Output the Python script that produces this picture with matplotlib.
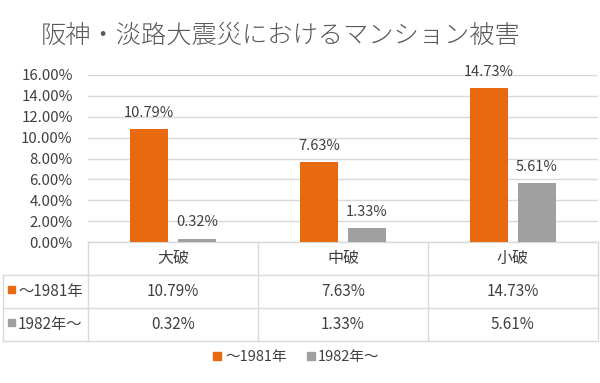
import matplotlib
matplotlib.use('Agg')
import matplotlib.pyplot as plt
import numpy as np

plt.rcParams['font.family'] = ['Noto Sans CJK JP', 'DejaVu Sans']

title = '阪神・淡路大震災におけるマンション被害'
categories = ['大破', '中破', '小破']
series_names = ['～1981年', '1982年～']
before_1981 = [10.79, 7.63, 14.73]
after_1982 = [0.32, 1.33, 5.61]
yticks = [0, 2, 4, 6, 8, 10, 12, 14, 16]

c_orange = '#E8690F'
c_gray = '#A0A0A0'
c_line = '#D9D9D9'
c_text = '#404040'

W, H = 600, 383
fig = plt.figure(figsize=(6, 3.83), dpi=100)

# background overlay in pixel coords for the table
tax = fig.add_axes([0, 0, 1, 1])
tax.set_xlim(0, W)
tax.set_ylim(H, 0)
tax.axis('off')

x0, x1 = 88, 598
y_base = 242
y_top = 75
ax = fig.add_axes([x0 / W, 1 - y_base / H, (x1 - x0) / W, (y_base - y_top) / H])
ax.set_facecolor('none')

x = np.arange(len(categories))
bw = 0.224
off = 0.141
ax.bar(x - off, before_1981, bw, color=c_orange, zorder=3)
ax.bar(x + off, after_1982, bw, color=c_gray, zorder=3)
for xi, v in zip(x, before_1981):
    ax.text(xi - off, v + 0.9, f'{v:.2f}%', ha='center', va='bottom', fontsize=10.5, color=c_text)
for xi, v in zip(x, after_1982):
    ax.text(xi + off, v + 0.9, f'{v:.2f}%', ha='center', va='bottom', fontsize=10.5, color=c_text)

ax.set_xlim(-0.5, len(categories) - 0.5)
ax.set_ylim(0, 16)
ax.set_yticks(yticks)
ax.set_yticklabels([f'{t:.2f}%' for t in yticks], fontsize=10.8, color=c_text)
ax.set_xticks([])
ax.grid(axis='y', color=c_line, lw=1, zorder=0)
ax.tick_params(axis='y', length=0, pad=11)
for s in ax.spines.values():
    s.set_visible(False)

# data table
col_w = (x1 - x0) / len(categories)
rows = [y_base, 275, 308, 341]
left = 3
for yy in rows[1:]:
    tax.plot([left, x1], [yy, yy], color=c_line, lw=1)
tax.plot([x0, x1], [y_base, y_base], color=c_line, lw=1)
tax.plot([left, left], [rows[1], rows[-1]], color=c_line, lw=1)
for i in range(len(categories) + 1):
    xx = x0 + i * col_w
    tax.plot([xx, xx], [y_base, rows[-1]], color=c_line, lw=1)

for i, c in enumerate(categories):
    tax.text(x0 + (i + 0.5) * col_w, (rows[0] + rows[1]) / 2, c, ha='center', va='center',
             fontsize=11.5, color=c_text)

series = [before_1981, after_1982]
colors = [c_orange, c_gray]
for r, (name, vals, col) in enumerate(zip(series_names, series, colors)):
    yc = (rows[r + 1] + rows[r + 2]) / 2
    tax.add_patch(plt.Rectangle((8, yc - 6), 7, 7, color=col))
    tax.text(18, yc, name, ha='left', va='center', fontsize=11, color=c_text)
    for i, v in enumerate(vals):
        tax.text(x0 + (i + 0.5) * col_w, yc, f'{v:.2f}%', ha='center', va='center',
                 fontsize=11, color=c_text)

# legend
ly = 357
tax.add_patch(plt.Rectangle((213, ly - 5), 8, 8, color=c_orange))
tax.text(225, ly, series_names[0], ha='left', va='center', fontsize=10.5, color=c_text)
tax.add_patch(plt.Rectangle((307, ly - 5), 8, 8, color=c_gray))
tax.text(318, ly, series_names[1], ha='left', va='center', fontsize=10.5, color=c_text)

fig.text(0.467, 1 - 36 / H, title, ha='center', va='center', fontsize=18.2, color='#595959',
         fontweight='light')

fig.savefig('out.png', dpi=100)
